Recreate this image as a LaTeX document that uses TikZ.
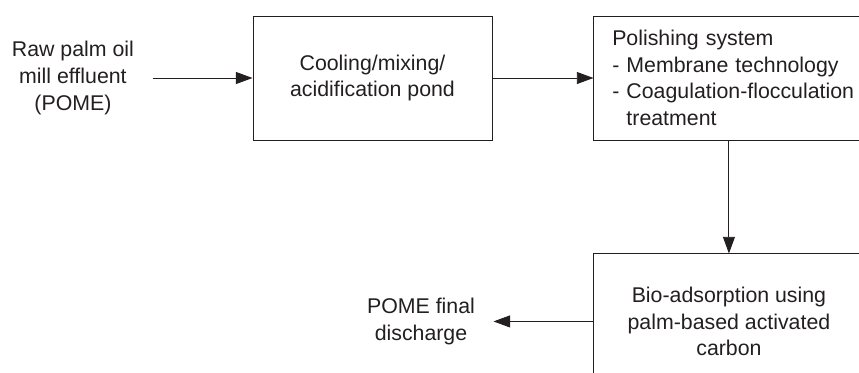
\documentclass[tikz,border=0pt]{standalone}
\usepackage{fontspec}
\setmainfont{Liberation Sans}
\usepackage{xcolor}
\usepackage{tikz}
\usetikzlibrary{arrows.meta,positioning}
\definecolor{ink}{HTML}{231F20}

\begin{document}
\begin{tikzpicture}[
			node distance=3cm,
			every node/.style={text=ink, font=\fontsize{18.2}{22.8}\selectfont},
			stage/.style={
				rectangle,
				draw=ink,
				line width=0.8pt,
				align=center,
				inner sep=0pt
			},
			ends/.style={
				align=center,
				inner xsep=0.55cm
			},
			arrow/.style={-{Triangle[length=0.5cm,width=0.36cm]}, line width=0.8pt, draw=ink}
			]
			\useasboundingbox (0,0) rectangle (25.77,-11.16);
			\clip (0,0) rectangle (25.77,-11.16);
			% The treatment stages
			\node[stage, minimum width=7.17cm, minimum height=3.72cm] (pond) at (11.175,-2.34) {Cooling/mixing/\\acidification pond};
			\node[stage, right=3.03cm of pond, minimum width=8.7cm, minimum height=3.72cm,
				text width=7.6cm, align=left, inner xsep=0.55cm] (polish) {Polishing system\\- Membrane technology\\- Coagulation-flocculation\\\phantom{- }treatment};
			\node[stage, below=3.39cm of polish.south west, anchor=north west,
				minimum width=8.1cm, minimum height=4.05cm] (bioads) {Bio-adsorption using\\palm-based activated\\carbon};
			% Inflow and outflow texts
			\node[ends, left=of pond] (rawpome) {Raw palm oil\\mill effluent\\(POME)};
			\node[ends, left=of bioads] (discharge) {POME final\\discharge};
			% Flow arrows
			\draw[arrow] (rawpome.east) -- (pond.west);
			\draw[arrow] (pond.east) -- (polish.west);
			\draw[arrow] (bioads.north |- polish.south) -- (bioads.north);
			\draw[arrow] (bioads.west) -- (discharge.east);
		\end{tikzpicture}
\end{document}
